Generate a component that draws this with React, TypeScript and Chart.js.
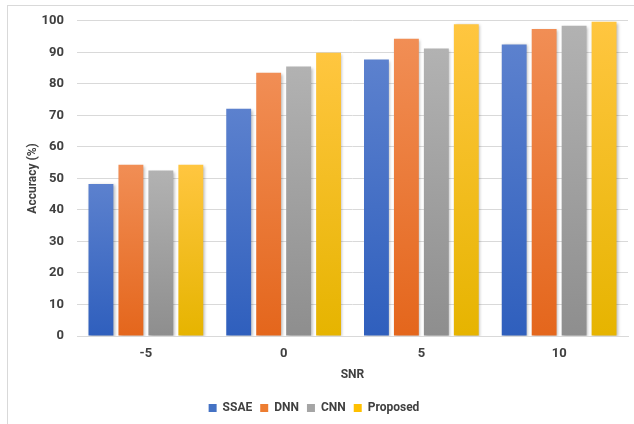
import React, { useEffect, useRef } from "react";
import { Chart, registerables } from "chart.js";

Chart.register(...registerables);

const snrLevels = ["-5", "0", "5", "10"];
const ssae = [48.2, 72.1, 87.7, 92.5];
const dnn = [54.3, 83.5, 94.3, 97.4];
const cnn = [52.5, 85.5, 91.2, 98.4];
const proposed = [54.3, 89.9, 98.9, 99.7];
const yTicks = [0, 10, 20, 30, 40, 50, 60, 70, 80, 90, 100];

const FONT = "Roboto, 'Liberation Sans', sans-serif";
const TEXT = "#404040";

// light top -> dark bottom, like the office-style bar fills
const palette = [
  { name: "SSAE", data: ssae, solid: "#4472c4", top: "#5c81ce", bottom: "#2f5fbd" },
  { name: "DNN", data: dnn, solid: "#ed7d31", top: "#f18e55", bottom: "#e4661c" },
  { name: "CNN", data: cnn, solid: "#a5a5a5", top: "#b2b2b2", bottom: "#8e8e8e" },
  { name: "Proposed", data: proposed, solid: "#ffc000", top: "#ffc640", bottom: "#e6b400" },
];

const barShadow = {
  id: "barShadow",
  beforeDatasetsDraw(chart: any) {
    const ctx = chart.ctx;
    ctx.save();
    ctx.shadowColor = "rgba(0,0,0,0.28)";
    ctx.shadowBlur = 3;
    ctx.shadowOffsetX = 1.5;
    ctx.shadowOffsetY = 1;
  },
  afterDatasetsDraw(chart: any) {
    chart.ctx.restore();
  },
};

export default function App() {
  const canvasRef = useRef<HTMLCanvasElement | null>(null);

  useEffect(() => {
    const canvas = canvasRef.current;
    if (!canvas) return;

    const gradientFill = (p: (typeof palette)[number]) => (context: any) => {
      const chart = context.chart;
      const yScale = chart.scales?.y;
      if (!chart.chartArea || !yScale || context.type !== "data") return p.solid;
      const v = p.data[context.dataIndex];
      const top = yScale.getPixelForValue(v);
      const bottom = yScale.getPixelForValue(0);
      const g = chart.ctx.createLinearGradient(0, top, 0, bottom);
      g.addColorStop(0, p.top);
      g.addColorStop(1, p.bottom);
      return g;
    };

    const chart = new Chart(canvas, {
      type: "bar",
      data: {
        labels: snrLevels,
        datasets: palette.map((p) => ({
          label: p.name,
          data: p.data,
          backgroundColor: gradientFill(p),
          borderWidth: 0,
          categoryPercentage: 0.87,
          barPercentage: 0.83,
        })),
      },
      plugins: [barShadow],
      options: {
        animation: false,
        responsive: false,
        maintainAspectRatio: false,
        layout: { padding: { left: 0, right: 6, top: 12, bottom: 0 } },
        plugins: {
          tooltip: { enabled: false },
          legend: {
            position: "bottom",
            labels: {
              boxWidth: 8,
              boxHeight: 8,
              padding: 8,
              color: TEXT,
              font: { family: FONT, size: 12, weight: "bold" },
              generateLabels: () =>
                palette.map((p, i) => ({
                  text: p.name,
                  fillStyle: p.solid,
                  strokeStyle: p.solid,
                  lineWidth: 0,
                  datasetIndex: i,
                  hidden: false,
                  fontColor: TEXT,
                })),
            },
          },
        },
        scales: {
          x: {
            afterFit: (axis: any) => {
              axis.height = 58;
            },
            grid: { display: false, drawTicks: false },
            border: { display: true, color: "#d9d9d9" },
            ticks: { color: TEXT, font: { family: FONT, size: 13, weight: "bold" }, padding: 10 },
            title: {
              display: true,
              text: "SNR",
              color: TEXT,
              font: { family: FONT, size: 12, weight: "bold" },
              padding: { top: 2, bottom: 12 },
            },
          },
          y: {
            min: 0,
            max: 100,
            afterFit: (axis: any) => {
              axis.width = 77;
            },
            afterBuildTicks: (axis: any) => {
              axis.ticks = yTicks.map((v) => ({ value: v }));
            },
            grid: { color: "#d9d9d9", drawTicks: false },
            border: { display: false },
            ticks: { color: TEXT, font: { family: FONT, size: 13, weight: "bold" }, padding: 13 },
            title: {
              display: true,
              text: "Accuracy (%)",
              color: TEXT,
              font: { family: FONT, size: 12, weight: "bold" },
              padding: { top: 26, bottom: 0 },
            },
          },
        },
      },
    });

    return () => chart.destroy();
  }, []);

  return (
    <div
      style={{
        position: "absolute",
        left: 0,
        top: 0,
        width: 634,
        height: 424,
        background: "#ffffff",
        overflow: "hidden",
      }}
    >
      <div
        style={{
          position: "absolute",
          left: 7,
          top: 5,
          width: 640,
          height: 430,
          border: "1px solid #d9d9d9",
          boxSizing: "border-box",
        }}
      />
      <canvas ref={canvasRef} width={634} height={424} style={{ position: "absolute", left: 0, top: 0 }} />
    </div>
  );
}
